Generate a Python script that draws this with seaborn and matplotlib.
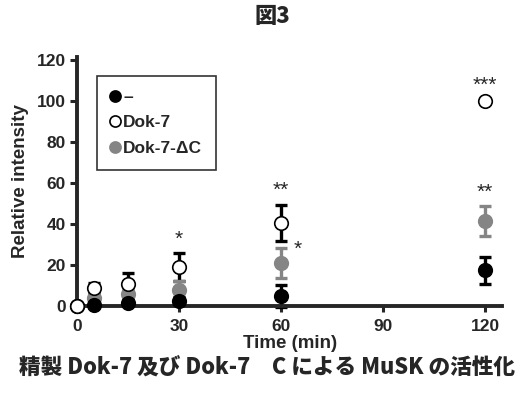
import numpy as np
import pandas as pd
import matplotlib
matplotlib.use("Agg")
import matplotlib.pyplot as plt
import seaborn as sns
from matplotlib.lines import Line2D

# time points (min)
time = [0, 5, 15, 30, 60, 120]

# relative intensity, mean and error
ctrl = [0, 0.5, 1.5, 2.5, 5, 17.5]
ctrl_err = [0, 0.5, 1, 2, 5.5, 6.5]
dok7 = [0, 8.8, 11, 19, 40.5, 100]
dok7_err = [0, 2.5, 5, 7, 9, 0.8]
dok7dc = [0, 4, 6, 8, 21, 41.5]
dok7dc_err = [0, 1, 2, 4, 7.5, 7.5]

series = ["–", "Dok-7", "Dok-7-ΔC"]

# significance marks: (x, y, text)
sig_x = [30, 60, 65, 120, 120]
sig_y = [28, 52, 23, 103, 51]
sig_txt = ["*", "**", "*", "***", "**"]

grey = "#858585"

sns.set_theme(style="ticks")
plt.rcParams["font.family"] = ["Liberation Sans", "DejaVu Sans"]

fig = plt.figure(figsize=(5.28, 3.98), dpi=100)
ax = fig.add_axes([0.146, 0.231, 0.805, 0.626])

df = pd.DataFrame({
    "time": time * 3,
    "value": ctrl + dok7 + dok7dc,
    "err": ctrl_err + dok7_err + dok7dc_err,
    "group": [series[0]] * 6 + [series[1]] * 6 + [series[2]] * 6,
})

err_col = {series[0]: "black", series[1]: "black", series[2]: grey}
for g in series:
    d = df[df["group"] == g]
    ax.errorbar(d["time"], d["value"], yerr=d["err"], fmt="none",
                ecolor=err_col[g], elinewidth=2.4, capsize=4, capthick=2.4,
                clip_on=False, zorder=2)

face = {series[0]: "black", series[1]: "white", series[2]: grey}
edge = {series[0]: "black", series[1]: "black", series[2]: grey}
for g in [series[2], series[1], series[0]]:
    d = df[df["group"] == g]
    sns.scatterplot(x=d["time"], y=d["value"], ax=ax, s=95,
                    color=face[g], edgecolor=edge[g], linewidth=1.2,
                    clip_on=False, zorder=3 if g != series[1] else 4,
                    legend=False)

for x, y, t in zip(sig_x, sig_y, sig_txt):
    ax.text(x, y, t, ha="center", va="bottom", fontsize=15)

# legend
handles = [Line2D([], [], ls="none", marker="o", ms=8, mfc=face[g], mec=edge[g], mew=1.2)
           for g in series]
leg = ax.legend(handles, series, loc="upper left", bbox_to_anchor=(0.027, 0.96),
                frameon=True, fancybox=False, handlelength=0.5, handletextpad=0.2,
                borderpad=0.8, labelspacing=0.6,
                prop={"weight": "bold", "size": 12.5})
leg.get_frame().set_edgecolor("black")
leg.get_frame().set_linewidth(1.2)

ax.set_xlim(0, 125)
ax.set_ylim(0, 121.5)
ax.set_xticks([0, 30, 60, 90, 120])
ax.set_yticks([0, 20, 40, 60, 80, 100, 120])
ax.tick_params(axis="y", width=2.2, length=5, labelsize=12.5, direction="out", pad=3)
ax.tick_params(axis="x", width=2.2, length=4, labelsize=12.5, direction="out", pad=5)
for lab in ax.get_xticklabels() + ax.get_yticklabels():
    lab.set_fontweight("bold")
for s in ["left", "bottom"]:
    ax.spines[s].set_linewidth(2.8)
sns.despine(ax=ax)

ax.set_xlabel("Time (min)", fontsize=13.5, fontweight="bold", labelpad=1)
ax.set_ylabel("Relative intensity", fontsize=13.5, fontweight="bold", labelpad=6)

fig.text(0.515, 0.958, "図3", ha="center", va="center", fontsize=16,
         fontweight="heavy", family=["Noto Sans CJK JP", "DejaVu Sans"])
fig.text(0.505, 0.075, "精製 Dok-7 及び Dok-7　C による MuSK の活性化",
         ha="center", va="center", fontsize=15.6, fontweight="heavy",
         family=["Noto Sans CJK JP", "DejaVu Sans"])

fig.savefig("out.png", dpi=100)
